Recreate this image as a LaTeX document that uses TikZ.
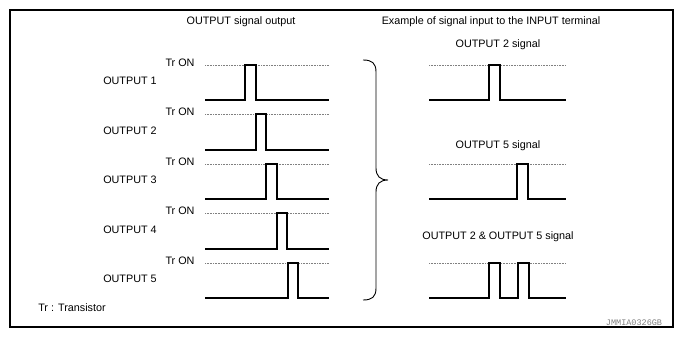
\documentclass[tikz,border=0pt]{standalone}
\usepackage{fontspec}
\setmainfont{Liberation Sans}
\newfontfamily\codefont{Liberation Mono}
\usetikzlibrary{decorations.pathreplacing}
\begin{document}
\begin{tikzpicture}[x=1pt,y=-1pt,
  lbl/.style={font=\fontsize{10.8}{12}\selectfont, inner sep=0pt},
  sig/.style={line width=2.8pt, line join=miter},
  lvl/.style={gray, line width=0.6pt, dash pattern=on 0.8pt off 0.8pt},
  frame/.style={line width=1.6pt}]
\useasboundingbox (0,0) rectangle (685,339);
\draw[frame] (10,10) rectangle (673,327);
% titles
\node[lbl] (t1) at (241,22) {OUTPUT signal output};
\node[lbl] (t2) at (491,22) {Example of signal input to the INPUT terminal};
% left rows
\foreach \i/\b/\d/\pa/\pb in {1/100/65/245/256, 2/150/114/256/266, 3/199/164/266/277, 4/249/213/277/287, 5/298/263/288/298}{
  \node[lbl] (tr\i) at (180,\d-2) {Tr ON};
  \node[lbl] (out\i) at (130,\b-19) {OUTPUT \i};
  \draw[lvl] (205,\d) -- (329,\d);
  \draw[sig] (205,\b) -- (\pa,\b) -- (\pa,\d) -- (\pb,\d) -- (\pb,\b) -- (329,\b);
}
\node[lbl] (trn) at (72,308) {Tr : Transistor};
% brace
\draw[line width=0.9pt] (363,60) .. controls (372,60) and (376,63) .. (376,72)
  -- (376,168) .. controls (376,176) and (380,180) .. (388,180)
  .. controls (380,180) and (376,184) .. (376,192)
  -- (376,288) .. controls (376,297) and (372,300) .. (363,300);
% right
\node[lbl] (s2) at (498,45) {OUTPUT 2 signal};
\draw[lvl] (429,65) -- (566,65);
\draw[sig] (429,100) -- (489,100) -- (489,65) -- (500,65) -- (500,100) -- (566,100);
\node[lbl] (s5) at (498,146) {OUTPUT 5 signal};
\draw[lvl] (429,164) -- (566,164);
\draw[sig] (429,199) -- (517,199) -- (517,164) -- (528,164) -- (528,199) -- (566,199);
\node[lbl] (s25) at (498,237) {OUTPUT 2 \& OUTPUT 5 signal};
\draw[lvl] (429,263) -- (566,263);
\draw[sig] (429,298) -- (489,298) -- (489,263) -- (500,263) -- (500,298) -- (518,298) -- (518,263) -- (529,263) -- (529,298) -- (566,298);
\node[inner sep=0pt, text=gray, font=\codefont\fontsize{8.5}{9}\selectfont] (code) at (634,323) {JMMIA0326GB};
\end{tikzpicture}
\end{document}
